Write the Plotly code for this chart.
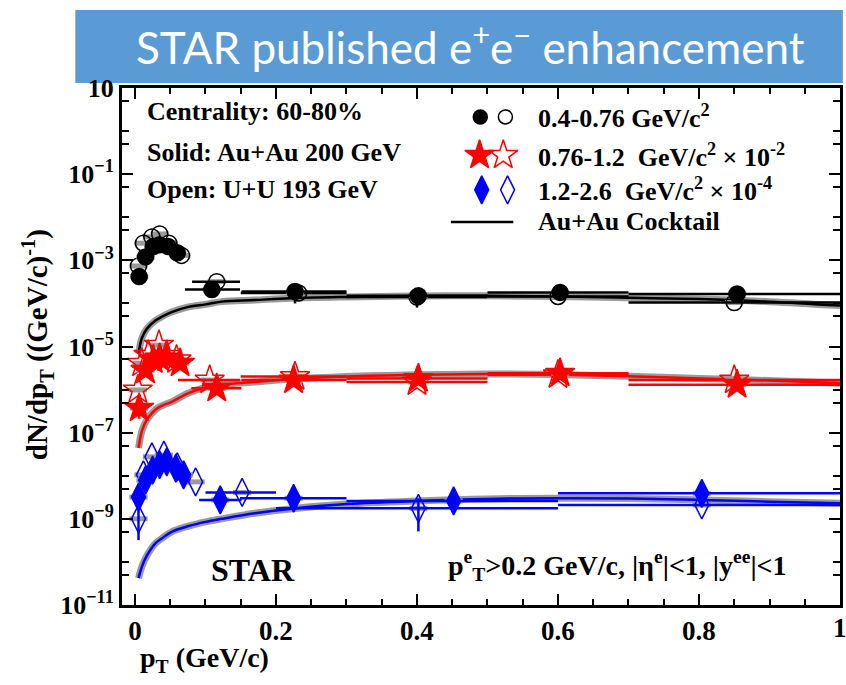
import plotly.graph_objects as go

# ---------------- data ----------------
# 0.4-0.76 GeV/c^2
blk_au_x = [0.006, 0.015, 0.026, 0.035, 0.047, 0.060, 0.109, 0.227, 0.402, 0.603, 0.854]
blk_au_y = [4.2e-4, 1.2e-3, 2.1e-3, 2.3e-3, 2.1e-3, 1.5e-3, 2.1e-4, 1.9e-4, 1.5e-4, 1.8e-4, 1.65e-4]
blk_au_lo = [0.006, 0.015, 0.026, 0.035, 0.047, 0.060, 0.071, 0.151, 0.30, 0.50, 0.70]
blk_au_hi = [0.006, 0.015, 0.026, 0.035, 0.047, 0.060, 0.149, 0.30, 0.50, 0.70, 1.00]
blk_au_ey = [0, 0, 0, 0, 0, 0, 0, 0.9e-4, 0, 0, 0]

blk_uu_x = [0.005, 0.012, 0.024, 0.035, 0.048, 0.066, 0.116, 0.232, 0.400, 0.600, 0.850]
blk_uu_y = [7.4e-4, 2.5e-3, 3.5e-3, 4.1e-3, 2.5e-3, 1.3e-3, 3.2e-4, 1.75e-4, 1.4e-4, 1.45e-4, 1.05e-4]
blk_uu_lo = [0.005, 0.012, 0.024, 0.035, 0.048, 0.066, 0.081, 0.15, 0.30, 0.50, 0.70]
blk_uu_hi = [0.005, 0.012, 0.024, 0.035, 0.048, 0.066, 0.149, 0.30, 0.50, 0.70, 1.00]
blk_uu_ey = [0, 0, 0, 0, 0, 0, 0, 0, 0.6e-4, 0, 0]

# 0.76-1.2 GeV/c^2 (x 1e-2)
red_au_x = [0.006, 0.015, 0.026, 0.035, 0.045, 0.064, 0.116, 0.225, 0.402, 0.603, 0.854]
red_au_y = [3.7e-7, 2.8e-6, 4.9e-6, 5.4e-6, 5.4e-6, 4.1e-6, 1.07e-6, 1.66e-6, 1.8e-6, 2.4e-6, 1.3e-6]
red_au_lo = [0.006, 0.015, 0.026, 0.035, 0.045, 0.064, 0.080, 0.151, 0.30, 0.50, 0.70]
red_au_hi = [0.006, 0.015, 0.026, 0.035, 0.045, 0.064, 0.151, 0.30, 0.50, 0.70, 1.00]
red_au_ey = [1.6e-7, 0, 0, 0, 0, 0, 0, 0, 0, 0, 0]

red_uu_x = [0.004, 0.0095, 0.019, 0.034, 0.045, 0.059, 0.106, 0.227, 0.400, 0.600, 0.850]
red_uu_y = [9.8e-7, 4.1e-6, 6.3e-6, 1.07e-5, 6.3e-6, 4.9e-6, 1.66e-6, 2.0e-6, 1.5e-6, 2.2e-6, 1.66e-6]
red_uu_lo = [0.004, 0.0095, 0.019, 0.034, 0.045, 0.059, 0.061, 0.15, 0.30, 0.50, 0.70]
red_uu_hi = [0.004, 0.0095, 0.019, 0.034, 0.045, 0.059, 0.149, 0.30, 0.50, 0.70, 1.00]
red_uu_ey = [0, 0, 0, 0, 0, 0, 0, 0, 0, 0, 0]

# 1.2-2.6 GeV/c^2 (x 1e-4)
blu_au_x = [0.005, 0.015, 0.025, 0.035, 0.045, 0.058, 0.069, 0.121, 0.225, 0.452, 0.804]
blu_au_y = [3.2e-9, 7.9e-9, 1.35e-8, 1.8e-8, 2.1e-8, 1.5e-8, 1.05e-8, 2.75e-9, 3.0e-9, 2.6e-9, 3.9e-9]
blu_au_lo = [0.005, 0.015, 0.025, 0.035, 0.045, 0.058, 0.069, 0.091, 0.149, 0.30, 0.60]
blu_au_hi = [0.005, 0.015, 0.025, 0.035, 0.045, 0.058, 0.069, 0.151, 0.30, 0.60, 1.00]
blu_au_ey = [0, 0, 0, 0, 0, 0, 0, 1.35e-9, 1.4e-9, 0, 0]

blu_uu_x = [0.005, 0.012, 0.024, 0.041, 0.060, 0.086, 0.152, 0.402, 0.804]
blu_uu_y = [1.0e-9, 1.05e-8, 2.75e-8, 3.0e-8, 1.6e-8, 7.2e-9, 4.1e-9, 1.75e-9, 2.1e-9]
blu_uu_lo = [0.005, 0.012, 0.024, 0.041, 0.060, 0.086, 0.10, 0.20, 0.60]
blu_uu_hi = [0.005, 0.012, 0.024, 0.041, 0.060, 0.086, 0.20, 0.60, 1.00]
blu_uu_ey = [6.8e-10, 0, 0, 0, 0, 0, 0, 1.24e-9, 0]

# Au+Au cocktail
ck_x = [0.005, 0.01, 0.017, 0.029, 0.038, 0.052, 0.076, 0.1, 0.123, 0.17, 0.22,
        0.3, 0.4, 0.5, 0.6, 0.7, 0.8, 0.9, 1.0]
ck_blk = [6.9e-6, 1.6e-5, 2.6e-5, 4.0e-5, 4.9e-5, 6.3e-5, 8.3e-5, 9.5e-5, 1.1e-4, 1.2e-4, 1.32e-4,
          1.41e-4, 1.48e-4, 1.51e-4, 1.45e-4, 1.35e-4, 1.26e-4, 1.1e-4, 8.9e-5]
ck_red = [4.4e-8, 1.12e-7, 2.0e-7, 3.4e-7, 4.2e-7, 5.2e-7, 8.3e-7, 1.12e-6, 1.29e-6, 1.5e-6, 1.74e-6,
          2.0e-6, 2.2e-6, 2.3e-6, 2.24e-6, 2.04e-6, 1.82e-6, 1.62e-6, 1.41e-6]
ck_blu = [4.2e-11, 7.9e-11, 1.41e-10, 2.7e-10, 3.5e-10, 5.0e-10, 6.8e-10, 8.5e-10, 1.0e-9, 1.35e-9, 1.7e-9,
          2.2e-9, 2.6e-9, 2.9e-9, 3.0e-9, 2.95e-9, 2.75e-9, 2.5e-9, 2.3e-9]

y_major = [1e1, 1e-1, 1e-3, 1e-5, 1e-7, 1e-9, 1e-11]
y_major_text = ["10", "10<sup>−1</sup>", "10<sup>−3</sup>", "10<sup>−5</sup>",
                "10<sup>−7</sup>", "10<sup>−9</sup>", "10<sup>−11</sup>"]
x_ticks = [0, 0.2, 0.4, 0.6, 0.8, 1.0]
x_tick_text = ["0", "0.2", "0.4", "0.6", "0.8", "1"]

legend_rows = ["0.4-0.76 GeV/c<sup>2</sup>",
               "0.76-1.2  GeV/c<sup>2</sup> × 10<sup>-2</sup>",
               "1.2-2.6  GeV/c<sup>2</sup> × 10<sup>-4</sup>",
               "Au+Au Cocktail"]

# ---------------- figure ----------------
SERIF = "Liberation Serif"
GREY = "#9a9a9a"
fig = go.Figure()

# cocktail bands + lines
for yv, col in [(ck_blk, "black"), (ck_red, "#ff0000"), (ck_blu, "#0000ff")]:
    fig.add_trace(go.Scatter(x=ck_x, y=yv, mode="lines", line=dict(color=GREY, width=7, shape="spline"),
                             showlegend=False, hoverinfo="skip"))
    fig.add_trace(go.Scatter(x=ck_x, y=yv, mode="lines", line=dict(color=col, width=2.5, shape="spline"),
                             showlegend=False))


def add_series(x, y, lo, hi, ey, color, symbol, size, lw=1.5):
    ex_p = [h - a for h, a in zip(hi, x)]
    ex_m = [a - l for a, l in zip(x, lo)]
    fig.add_trace(go.Scatter(
        x=x, y=y, mode="markers",
        marker=dict(symbol=symbol, size=size, color=color, line=dict(color=color, width=lw)),
        error_x=dict(type="data", symmetric=False, array=ex_p, arrayminus=ex_m,
                     width=0, thickness=2.5, color=color),
        error_y=dict(type="data", array=ey, width=0, thickness=2.5, color=color),
        showlegend=False))


def add_sys(x, y):
    fig.add_trace(go.Scatter(x=x, y=y, mode="markers",
                             marker=dict(symbol="line-ew", size=13, line=dict(color=GREY, width=5)),
                             showlegend=False, hoverinfo="skip"))


# open (U+U) then solid (Au+Au)
add_sys(blk_uu_x, blk_uu_y)
add_series(blk_uu_x, blk_uu_y, blk_uu_lo, blk_uu_hi, blk_uu_ey, "black", "circle-open", 16)
add_sys(blk_au_x, blk_au_y)
add_series(blk_au_x, blk_au_y, blk_au_lo, blk_au_hi, blk_au_ey, "black", "circle", 16)

add_sys(red_uu_x, red_uu_y)
add_series(red_uu_x, red_uu_y, red_uu_lo, red_uu_hi, red_uu_ey, "#ff0000", "star-open", 22)
add_sys(red_au_x, red_au_y)
add_series(red_au_x, red_au_y, red_au_lo, red_au_hi, red_au_ey, "#ff0000", "star", 22)

add_sys(blu_uu_x, blu_uu_y)
add_series(blu_uu_x, blu_uu_y, blu_uu_lo, blu_uu_hi, blu_uu_ey, "#0000ff", "diamond-tall-open", 20)
add_sys(blu_au_x, blu_au_y)
add_series(blu_au_x, blu_au_y, blu_au_lo, blu_au_hi, blu_au_ey, "#0000ff", "diamond-tall", 20)

# legend symbols on an overlay axis (0..1 = plot area)
leg_sym = [
    (0.499, 0.944, "circle", "black", 14), (0.534, 0.944, "circle-open", "black", 14),
    (0.498, 0.870, "star", "#ff0000", 22), (0.531, 0.870, "star-open", "#ff0000", 22),
    (0.501, 0.803, "diamond-tall", "#0000ff", 20), (0.537, 0.803, "diamond-tall-open", "#0000ff", 20),
]
for lx, ly, sym, col, sz in leg_sym:
    fig.add_trace(go.Scatter(x=[lx], y=[ly], xaxis="x2", yaxis="y2", mode="markers",
                             marker=dict(symbol=sym, size=sz, color=col, line=dict(color=col, width=1.5)),
                             showlegend=False, hoverinfo="skip"))
fig.add_trace(go.Scatter(x=[0.458, 0.545], y=[0.741, 0.741], xaxis="x2", yaxis="y2", mode="lines",
                         line=dict(color="black", width=2.5), showlegend=False, hoverinfo="skip"))

ann = []
leg_y = [0.944, 0.870, 0.803, 0.741]
for t, ly in zip(legend_rows, leg_y):
    ann.append(dict(x=0.577, y=ly, xref="paper", yref="paper", text=t, showarrow=False,
                    xanchor="left", yanchor="middle", font=dict(size=26)))

for t, ly in [("Centrality: 60-80%", 0.954), ("Solid: Au+Au 200 GeV", 0.876),
              ("Open: U+U 193 GeV", 0.803)]:
    ann.append(dict(x=0.032, y=ly, xref="paper", yref="paper", text=t, showarrow=False,
                    xanchor="left", yanchor="middle", font=dict(size=26)))

ann.append(dict(x=0.182, y=0.068, xref="paper", yref="paper", text="STAR", showarrow=False,
                xanchor="center", yanchor="middle", font=dict(size=32)))
ann.append(dict(x=0.451, y=0.077, xref="paper", yref="paper",
                text="p<sup>e</sup><sub>T</sub>>0.2 GeV/c, |η<sup>e</sup>|<1, |y<sup>ee</sup>|<1",
                showarrow=False, xanchor="left", yanchor="middle", font=dict(size=28)))
ann.append(dict(x=-0.118, y=0.503, xref="paper", yref="paper", textangle=-90,
                text="dN/dp<sub>T</sub> ((GeV/c)<sup>-1</sup>)", showarrow=False,
                xanchor="center", yanchor="middle", font=dict(size=29)))
ann.append(dict(x=0.115, y=-0.106, xref="paper", yref="paper",
                text="p<sub>T</sub> (GeV/c)", showarrow=False,
                xanchor="center", yanchor="middle", font=dict(size=28)))
ann.append(dict(x=0.4854, y=1.085, xref="paper", yref="paper",
                text="STAR published e<sup>+</sup>e<sup>−</sup> enhancement", showarrow=False,
                xanchor="center", yanchor="middle",
                font=dict(size=44, color="white", family="Lato", weight="normal")))
# last x tick label ("1") sits at the figure's right edge; draw it as an annotation so it is not dropped
ann.append(dict(x=x_ticks[-1], y=0, xref="x", yref="paper", text=x_tick_text[-1], showarrow=False,
                xanchor="center", yanchor="top", yshift=-6, font=dict(size=27)))

y_minor = []
for e in range(-11, 2):
    y_minor += [10.0 ** e, 5 * 10.0 ** e]

fig.update_layout(
    width=846, height=685,
    margin=dict(l=122, r=3, t=88, b=80),
    paper_bgcolor="white", plot_bgcolor="white",
    font=dict(family=SERIF, size=22, color="black", weight="bold"),
    showlegend=False,
    xaxis=dict(range=[-0.0184, 1.0], showline=True, linecolor="black", linewidth=3,
               mirror="allticks", ticks="inside", ticklen=11, tickwidth=2, tickcolor="black",
               tickvals=x_ticks, ticktext=x_tick_text[:-1] + [""], showgrid=False, zeroline=False,
               tickfont=dict(size=27),
               minor=dict(dtick=0.05, tick0=0, ticks="inside", ticklen=6, tickwidth=2,
                          tickcolor="black", showgrid=False)),
    yaxis=dict(type="log", range=[-11, 1], showline=True, linecolor="black", linewidth=3,
               mirror="allticks", ticks="inside", ticklen=11, tickwidth=2, tickcolor="black",
               tickvals=y_major, ticktext=y_major_text, showgrid=False, zeroline=False,
               tickfont=dict(size=26),
               minor=dict(tickmode="array", tickvals=y_minor, ticks="inside", ticklen=7,
                          tickwidth=2, tickcolor="black", showgrid=False)),
    xaxis2=dict(overlaying="x", range=[0, 1], visible=False, fixedrange=True),
    yaxis2=dict(overlaying="y", range=[0, 1], visible=False, fixedrange=True),
    shapes=[dict(type="rect", xref="paper", yref="paper", x0=-0.065, x1=1.004, y0=1.0097, y1=1.151,
                 fillcolor="#5b9bd5", line=dict(width=0), layer="below")],
    annotations=ann,
)

fig.write_html("out.html")
